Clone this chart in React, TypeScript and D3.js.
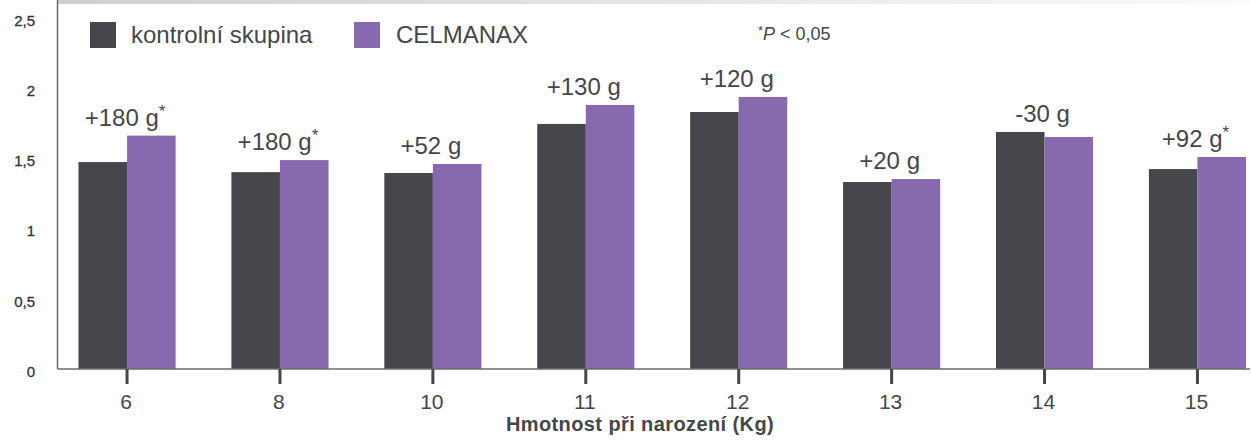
import React from "react";
import * as d3 from "d3";

const categories = ["6", "8", "10", "11", "12", "13", "14", "15"];
const controlValues = [1.472, 1.40, 1.394, 1.743, 1.828, 1.33, 1.686, 1.422];
const celmanaxValues = [1.66, 1.486, 1.458, 1.878, 1.935, 1.351, 1.65, 1.508];
const diffLabels = ["+180 g", "+180 g", "+52 g", "+130 g", "+120 g", "+20 g", "-30 g", "+92 g"];
const significant = [true, true, false, false, false, false, false, true];
const yTicks = [0, 0.5, 1, 1.5, 2, 2.5];
const seriesNames = ["kontrolní skupina", "CELMANAX"];

const W = 1251;
const H = 446;
const DARK = "#46474c";
const PURPLE = "#866aad";
const TEXT = "#45464b";
const FONT = "'Liberation Sans', Arial, Helvetica, sans-serif";

export default function App() {
  const axisX0 = 57.5;
  const axisX1 = 1250;
  const baseY = 369;
  const y = d3.scaleLinear().domain([0, 2.5]).range([baseY, 17.5]);
  const x = d3
    .scaleBand<string>()
    .domain(categories)
    .range([78.5, 1246])
    .paddingInner(0.365)
    .paddingOuter(0);
  const inner = d3
    .scaleBand<string>()
    .domain(["c", "m"])
    .range([0, x.bandwidth()])
    .padding(0);
  const fmt = (v: number) => String(v).replace(".", ",");

  return (
    <svg
      width={W}
      height={H}
      style={{ position: "absolute", left: 0, top: 0, background: "#fff" }}
      fontFamily={FONT}
    >
      <defs>
        <linearGradient id="topband" x1="0" x2="1" y1="0" y2="0">
          <stop offset="0" stopColor="#cfcfd3" />
          <stop offset="1" stopColor="#fbfbfb" />
        </linearGradient>
      </defs>
      <rect x={axisX0} y={0} width={axisX1 - axisX0} height={4} fill="url(#topband)" />

      {/* y tick labels */}
      {yTicks.map((t) => (
        <text
          key={t}
          x={35}
          y={y(t) + 8}
          textAnchor="end"
          fontSize={15}
          fill="#333337"
          stroke="#333337"
          strokeWidth={0.3}
        >
          {fmt(t)}
        </text>
      ))}

      {/* bars */}
      {categories.map((c, i) => {
        const x0 = x(c)!;
        return (
          <g key={c}>
            <rect
              x={x0 + inner("c")!}
              y={y(controlValues[i])}
              width={inner.bandwidth()}
              height={baseY - y(controlValues[i])}
              fill={DARK}
            />
            <rect
              x={x0 + inner("m")!}
              y={y(celmanaxValues[i])}
              width={inner.bandwidth()}
              height={baseY - y(celmanaxValues[i])}
              fill={PURPLE}
            />
          </g>
        );
      })}

      {/* bar group labels */}
      {categories.map((c, i) => {
        const cx = x(c)! + x.bandwidth() / 2 - 2;
        const top = y(Math.max(controlValues[i], celmanaxValues[i]));
        return (
          <text
            key={"l" + c}
            x={cx}
            y={top - 10}
            textAnchor="middle"
            fontSize={24}
            fill={TEXT}
          >
            {diffLabels[i]}
            {significant[i] ? (
              <tspan fontSize={17} dy={-9}>
                *
              </tspan>
            ) : null}
          </text>
        );
      })}

      {/* axes */}
      <line x1={axisX0} x2={axisX0} y1={0} y2={baseY} stroke="#6d6d72" strokeWidth={1.5} />
      <line x1={axisX0} x2={axisX1} y1={baseY} y2={baseY} stroke="#6d6d72" strokeWidth={1.5} />
      {categories.map((c) => {
        const cx = x(c)! + x.bandwidth() / 2;
        return (
          <g key={"t" + c}>
            <line x1={cx} x2={cx} y1={baseY} y2={384} stroke={TEXT} strokeWidth={3} />
            <text x={cx - 1} y={409} textAnchor="middle" fontSize={21} fill={TEXT}>
              {c}
            </text>
          </g>
        );
      })}
      <text
        x={640}
        y={431}
        textAnchor="middle"
        fontSize={20}
        fontWeight="bold"
        letterSpacing={0.4}
        fill={TEXT}
      >
        Hmotnost při narození (Kg)
      </text>

      {/* legend */}
      <rect x={90} y={22} width={26} height={26} fill={DARK} />
      <text x={131} y={43} fontSize={24} fill={TEXT}>
        {seriesNames[0]}
      </text>
      <rect x={354} y={22} width={26} height={26} fill={PURPLE} />
      <text x={396} y={43} fontSize={24} fill={TEXT}>
        {seriesNames[1]}
      </text>
      <text x={758} y={40} fontSize={18} fill={TEXT}>
        <tspan fontSize={13} dy={-5}>*</tspan>
        <tspan fontStyle="italic" dy={5}>P</tspan>
        <tspan> &lt; 0,05</tspan>
      </text>
    </svg>
  );
}
